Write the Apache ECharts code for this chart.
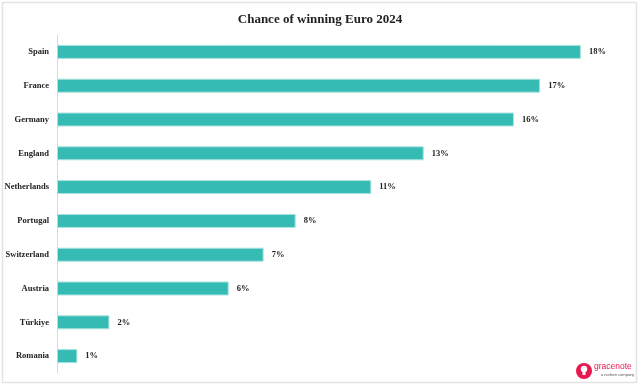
<!DOCTYPE html>
<html><head><meta charset="utf-8">
<script src="https://cdn.jsdelivr.net/npm/echarts@6/dist/echarts.min.js"></script>
<style>html,body{margin:0;padding:0;background:#fff}#c{width:640px;height:388px}</style>
</head><body><div id="c"></div>
<script>
const categories = ["Spain","France","Germany","England","Netherlands","Portugal","Switzerland","Austria","Türkiye","Romania"];
const values = [18.0,16.6,15.7,12.6,10.8,8.2,7.1,5.9,1.8,0.7];
const labels = ["18%","17%","16%","13%","11%","8%","7%","6%","2%","1%"];
const title = "Chance of winning Euro 2024";

const chart = echarts.init(document.getElementById('c'));
chart.setOption({
  animation:false,
  backgroundColor:'#fff',
  title:{text:title,left:'center',top:8,textStyle:{fontFamily:'Liberation Serif',fontWeight:'bold',fontSize:13,color:'#222'}},
  grid:{left:57,right:37,top:35,bottom:15,containLabel:false,outerBoundsMode:'none'},
  xAxis:{type:'value',min:0,max:18.76,show:false},
  yAxis:{type:'category',inverse:true,data:categories,
    axisLine:{show:true,lineStyle:{color:'#d9d9d9',width:1}},
    axisTick:{show:false},
    axisLabel:{margin:8,fontFamily:'Liberation Serif',fontWeight:'bold',fontSize:8.5,color:'#222'}},
  series:[{type:'bar',data:values,barWidth:14,
    itemStyle:{color:'#36bbb4',borderColor:'#a8e3df',borderWidth:1},
    label:{show:true,position:'right',distance:8,fontFamily:'Liberation Serif',fontWeight:'bold',fontSize:8.5,color:'#222',
      formatter:p=>labels[p.dataIndex]}}],
  graphic:[
    {type:'rect',shape:{x:2.5,y:2.5,width:634,height:380},style:{fill:'none',stroke:'#e3e3e3',lineWidth:1.5},silent:true,z:-1},
    {type:'circle',shape:{cx:584,cy:371,r:8},style:{fill:'#e8174f'}},
    {type:'circle',shape:{cx:584,cy:369,r:3.2},style:{fill:'#fff'}},
    {type:'rect',shape:{x:582.5,y:371,width:3,height:4},style:{fill:'#fff'}},
    {type:'text',style:{x:594,y:362,text:'gracenote',fontFamily:'Liberation Sans',fontSize:8.5,fill:'#e8174f'}},
    {type:'text',style:{x:601,y:373,text:'a nielsen company',fontFamily:'Liberation Sans',fontSize:4,fill:'#555'}}
  ]
});
</script></body></html>
